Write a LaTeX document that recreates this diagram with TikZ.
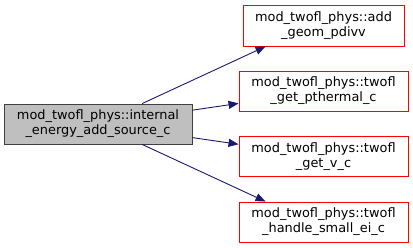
\documentclass[tikz,border=0pt]{standalone}
\usepackage{fontspec}
\setmainfont{DejaVu Sans}
\usetikzlibrary{arrows.meta}
\definecolor{edgeblue}{HTML}{191970}
\definecolor{rootfill}{HTML}{BFBFBF}
\definecolor{rootline}{HTML}{404040}
\tikzset{
  fn/.style={draw=red, line width=0.9pt, align=center, inner sep=0pt,
    minimum height=40pt, font=\fontsize{12.9}{15}\selectfont},
  rootfn/.style={fn, draw=rootline, fill=rootfill},
  call/.style={draw=edgeblue, line width=0.9pt,
    -{Triangle[length=10pt,width=8pt]}}
}
\begin{document}
\begin{tikzpicture}[x=1pt,y=-1pt]
\useasboundingbox (0,0) rectangle (413,248);
\node[rootfn, minimum width=188pt] (root) at (98,124) {mod\_twofl\_phys::internal\\\_energy\_add\_source\_c};
\node[fn, minimum width=161pt, minimum height=41pt] (geom) at (323.5,25.5) {mod\_twofl\_phys::add\\\_geom\_pdivv};
\node[fn, minimum width=169pt] (pth) at (323.5,91) {mod\_twofl\_phys::twofl\\\_get\_pthermal\_c};
\node[fn, minimum width=169pt] (getv) at (323.5,156.5) {mod\_twofl\_phys::twofl\\\_get\_v\_c};
\node[fn, minimum width=169pt] (small) at (323.5,222) {mod\_twofl\_phys::twofl\\\_handle\_small\_ei\_c};
\draw[call] (root) -- ([xshift=23pt]geom.south west);
\draw[call] (root) -- (pth);
\draw[call] (root) -- (getv);
\draw[call] (root) -- ([xshift=27pt]small.north west);
\end{tikzpicture}
\end{document}
